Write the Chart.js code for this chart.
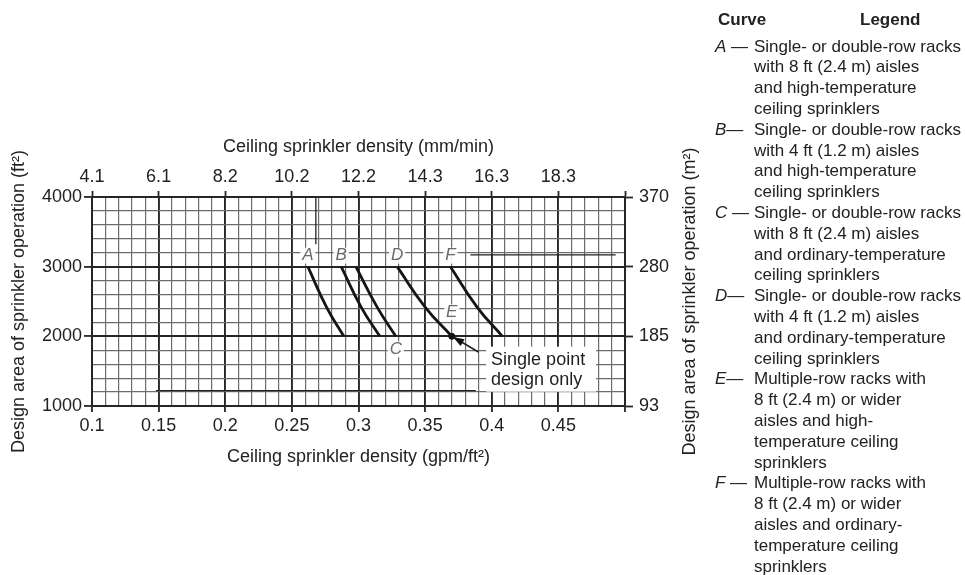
<!DOCTYPE html>
<html><head><meta charset="utf-8">
<script src="https://cdn.jsdelivr.net/npm/chart.js@4/dist/chart.umd.min.js"></script>
<style>
html,body{margin:0;padding:0;background:#fff;}
#wrap{position:relative;width:965px;height:575px;overflow:hidden;font-family:"Liberation Sans",Arial,Helvetica,sans-serif;color:#222;}
#c{position:absolute;left:0;top:0;}
#legend{position:absolute;left:0;top:0;width:965px;height:575px;pointer-events:none;}
.hdr{position:absolute;font-weight:bold;font-size:17px;line-height:20px;white-space:nowrap;}
.ln{position:absolute;font-size:17px;line-height:20.8px;white-space:nowrap;}
.ltr{font-style:italic;}
</style></head>
<body><div id="wrap"><canvas id="c" width="965" height="575"></canvas><div id="legend"></div></div>
<script>
// ---- data ----
const densityTicks = [0.1, 0.15, 0.2, 0.25, 0.3, 0.35, 0.4, 0.45];          // gpm/ft2
const mmMinTicks   = ['4.1','6.1','8.2','10.2','12.2','14.3','16.3','18.3']; // mm/min
const areaFt2Ticks = [1000, 2000, 3000, 4000];
const areaM2Ticks  = ['93','185','280','370'];

const curveA_density = [0.262, 0.276, 0.289];
const curveA_area    = [3000, 2420, 2000];
const curveB_density = [0.287, 0.302, 0.316];
const curveB_area    = [3000, 2420, 2000];
const curveC_density = [0.298, 0.314, 0.328];
const curveC_area    = [3000, 2420, 2000];
const curveD_density = [0.329, 0.350, 0.370];
const curveD_area    = [3000, 2420, 2000];
const curveF_density = [0.369, 0.389, 0.408];
const curveF_area    = [3000, 2420, 2000];
const pointE_density = [0.370];
const pointE_area    = [2000];

const leaderA_density = [0.268, 0.268];
const leaderA_area    = [4000, 3320];
const leaderF_density = [0.384, 0.493];
const leaderF_area    = [3170, 3170];
const leaderLow_density = [0.148, 0.388];
const leaderLow_area    = [1220, 1220];
const arrowE_density = [0.390, 0.371];
const arrowE_area    = [1775, 1990];
const singlePoint_density = [0.3995];
const singlePoint_area    = [1665];

const legendLetters = ['A','B','C','D','E','F'];
const legendDashes  = [' —','—',' —','—','—',' —'];
const legendLines = [
  ['Single- or double-row racks','with 8 ft (2.4 m) aisles','and high-temperature','ceiling sprinklers'],
  ['Single- or double-row racks','with 4 ft (1.2 m) aisles','and high-temperature','ceiling sprinklers'],
  ['Single- or double-row racks','with 8 ft (2.4 m) aisles','and ordinary-temperature','ceiling sprinklers'],
  ['Single- or double-row racks','with 4 ft (1.2 m) aisles','and ordinary-temperature','ceiling sprinklers'],
  ['Multiple-row racks with','8 ft (2.4 m) or wider','aisles and high-','temperature ceiling','sprinklers'],
  ['Multiple-row racks with','8 ft (2.4 m) or wider','aisles and ordinary-','temperature ceiling','sprinklers']
];

// ---- legend (HTML text) ----
(function(){
  const L = document.getElementById('legend');
  const h1 = document.createElement('div'); h1.className='hdr'; h1.style.left='718px'; h1.style.top='10px'; h1.textContent='Curve'; L.appendChild(h1);
  const h2 = document.createElement('div'); h2.className='hdr'; h2.style.left='860px'; h2.style.top='10px'; h2.textContent='Legend'; L.appendChild(h2);
  let row = 0;
  legendLetters.forEach((ltr, k) => {
    legendLines[k].forEach((txt, j) => {
      const top = 36.6 + row * 20.8;
      if (j === 0) {
        const d = document.createElement('div'); d.className='ln'; d.style.left='715px'; d.style.top=top+'px';
        const s = document.createElement('span'); s.className='ltr'; s.textContent=ltr; d.appendChild(s);
        d.appendChild(document.createTextNode(legendDashes[k]));
        L.appendChild(d);
      }
      const t = document.createElement('div'); t.className='ln'; t.style.left='754px'; t.style.top=top+'px'; t.textContent=txt;
      L.appendChild(t);
      row++;
    });
  });
})();

// ---- chart ----
const FONT = '"Liberation Sans", Arial, Helvetica, sans-serif';
const DARK = '#262626', MINOR = '#6c6c6c';
const isMajorX = v => Math.abs(Math.round(v * 100)) % 5 === 0;
const isMajorY = v => Math.round(v) % 1000 === 0;
const pts = (xs, ys) => xs.map((v, i) => ({x: v, y: ys[i]}));

const curveDefs = [
  {d: curveA_density, a: curveA_area},
  {d: curveB_density, a: curveB_area},
  {d: curveC_density, a: curveC_area},
  {d: curveD_density, a: curveD_area},
  {d: curveF_density, a: curveF_area}
];
const leaderDefs = [
  {d: leaderA_density, a: leaderA_area},
  {d: leaderF_density, a: leaderF_area},
  {d: leaderLow_density, a: leaderLow_area}
];

const datasets = [];
curveDefs.forEach(c => datasets.push({data: pts(c.d, c.a), showLine: true, borderColor: '#151515', borderWidth: 2.8,
  pointRadius: 0, tension: 0.5, fill: false}));
leaderDefs.forEach(c => datasets.push({data: pts(c.d, c.a), showLine: true, borderColor: '#222', borderWidth: 1.3,
  pointRadius: 0, tension: 0, fill: false}));
datasets.push({data: pts(arrowE_density, arrowE_area), showLine: true, borderColor: '#222', borderWidth: 1.6,
  pointRadius: 0, tension: 0, fill: false});
datasets.push({data: pts(pointE_density, pointE_area), showLine: false, pointRadius: 3, pointBackgroundColor: '#111',
  pointBorderColor: '#111'});

function labelFor(list, labels, v) {
  const i = list.findIndex(t => Math.abs(t - v) < 1e-6);
  return i < 0 ? '' : labels[i];
}

const annotPlugin = {
  id: 'annot',
  afterDatasetsDraw(chart) {
    const {ctx, scales: {x, y}} = chart;
    ctx.save();
    // arrow head at E
    const x0 = x.getPixelForValue(arrowE_density[0]), y0 = y.getPixelForValue(arrowE_area[0]);
    const x1 = x.getPixelForValue(arrowE_density[1]), y1 = y.getPixelForValue(arrowE_area[1]);
    const ang = Math.atan2(y1 - y0, x1 - x0);
    ctx.fillStyle = '#111';
    ctx.beginPath();
    ctx.moveTo(x1, y1);
    ctx.lineTo(x1 - 11 * Math.cos(ang) + 4 * Math.sin(ang), y1 - 11 * Math.sin(ang) - 4 * Math.cos(ang));
    ctx.lineTo(x1 - 11 * Math.cos(ang) - 4 * Math.sin(ang), y1 - 11 * Math.sin(ang) + 4 * Math.cos(ang));
    ctx.closePath(); ctx.fill();

    // curve letters
    const letters = [
      {t: 'A', d: curveA_density[0], a: curveA_area[0], dy: -11},
      {t: 'B', d: curveB_density[0], a: curveB_area[0], dy: -11},
      {t: 'D', d: curveD_density[0], a: curveD_area[0], dy: -11},
      {t: 'F', d: curveF_density[0], a: curveF_area[0], dy: -11},
      {t: 'E', d: pointE_density[0], a: pointE_area[0], dy: -24},
      {t: 'C', d: curveC_density[2], a: curveC_area[2], dy: 13}
    ];
    ctx.font = 'italic 17px ' + FONT;
    ctx.textAlign = 'center'; ctx.textBaseline = 'middle';
    letters.forEach(l => {
      const px = x.getPixelForValue(l.d), py = y.getPixelForValue(l.a) + l.dy;
      const w = ctx.measureText(l.t).width;
      ctx.fillStyle = 'rgba(255,255,255,0.9)';
      ctx.fillRect(px - w / 2 - 2, py - 8, w + 4, 16);
      ctx.fillStyle = '#6a6a6a';
      ctx.fillText(l.t, px, py);
    });

    // single point design only
    const sx = x.getPixelForValue(singlePoint_density[0]), sy = y.getPixelForValue(singlePoint_area[0]);
    ctx.fillStyle = '#fff';
    ctx.fillRect(sx - 5, sy - 13, 110, 45);
    ctx.fillStyle = '#1e1e1e';
    ctx.font = '18px ' + FONT;
    ctx.textAlign = 'left';
    ctx.fillText('Single point', sx, sy);
    ctx.fillText('design only', sx, sy + 20);
    ctx.restore();
  },
  afterDraw(chart) {
    const {ctx, chartArea: ca} = chart;
    const cx = (ca.left + ca.right) / 2, cy = (ca.top + ca.bottom) / 2;
    ctx.save();
    ctx.fillStyle = '#222';
    ctx.font = '18px ' + FONT;
    ctx.textAlign = 'center'; ctx.textBaseline = 'middle';
    ctx.fillText('Ceiling sprinkler density (mm/min)', cx, 147);
    ctx.fillText('Ceiling sprinkler density (gpm/ft\u00B2)', cx, 457);
    ctx.translate(19, cy); ctx.rotate(-Math.PI / 2);
    ctx.fillText('Design area of sprinkler operation (ft\u00B2)', 0, 0);
    ctx.restore();
    ctx.save();
    ctx.fillStyle = '#222';
    ctx.font = '18px ' + FONT;
    ctx.textAlign = 'center'; ctx.textBaseline = 'middle';
    ctx.translate(690, cy); ctx.rotate(-Math.PI / 2);
    ctx.fillText('Design area of sprinkler operation (m\u00B2)', 0, 0);
    ctx.restore();
  }
};

const tickFont = {family: FONT, size: 18};
new Chart(document.getElementById('c'), {
  type: 'scatter',
  data: {datasets},
  options: {
    responsive: false, animation: false, events: [],
    layout: {padding: 0},
    plugins: {legend: {display: false}, tooltip: {enabled: false}},
    scales: {
      x: {type: 'linear', position: 'bottom', min: 0.1, max: 0.5,
        ticks: {stepSize: 0.01, autoSkip: false, maxRotation: 0, padding: 3, color: '#222', font: tickFont,
          callback: v => labelFor(densityTicks, densityTicks.map(String), v)},
        grid: {color: c => isMajorX(c.tick.value) ? DARK : MINOR, lineWidth: c => isMajorX(c.tick.value) ? 1.9 : 1.2,
          tickLength: 6, tickColor: c => isMajorX(c.tick.value) ? DARK : 'rgba(0,0,0,0)', tickWidth: 1.8},
        border: {display: true, color: DARK, width: 2},
        afterFit: s => { s.height = 169; }},
      x2: {type: 'linear', position: 'top', min: 0.1, max: 0.5,
        ticks: {stepSize: 0.01, autoSkip: false, maxRotation: 0, padding: 3, color: '#222', font: tickFont,
          callback: v => labelFor(densityTicks, mmMinTicks, v)},
        grid: {drawOnChartArea: false, tickLength: 6, tickColor: c => isMajorX(c.tick.value) ? DARK : 'rgba(0,0,0,0)', tickWidth: 1.8},
        border: {display: true, color: DARK, width: 2},
        afterFit: s => { s.height = 197; }},
      y: {type: 'linear', position: 'left', min: 1000, max: 4000,
        ticks: {stepSize: 200, autoSkip: false, padding: 2, color: '#222', font: tickFont,
          callback: v => labelFor(areaFt2Ticks, areaFt2Ticks.map(String), v)},
        grid: {color: c => isMajorY(c.tick.value) ? DARK : MINOR, lineWidth: c => isMajorY(c.tick.value) ? 1.9 : 1.2,
          tickLength: 8, tickColor: c => isMajorY(c.tick.value) ? DARK : 'rgba(0,0,0,0)', tickWidth: 1.8},
        border: {display: true, color: DARK, width: 2},
        afterFit: s => { s.width = 92; }},
      y2: {type: 'linear', position: 'right', min: 1000, max: 4000,
        ticks: {stepSize: 200, autoSkip: false, padding: 6, color: '#222', font: tickFont,
          callback: v => labelFor(areaFt2Ticks, areaM2Ticks, v)},
        grid: {drawOnChartArea: false, tickLength: 8, tickColor: c => isMajorY(c.tick.value) ? DARK : 'rgba(0,0,0,0)', tickWidth: 1.8},
        border: {display: true, color: DARK, width: 2},
        afterFit: s => { s.width = 340; }}
    }
  },
  plugins: [annotPlugin]
});
</script>
</body></html>
